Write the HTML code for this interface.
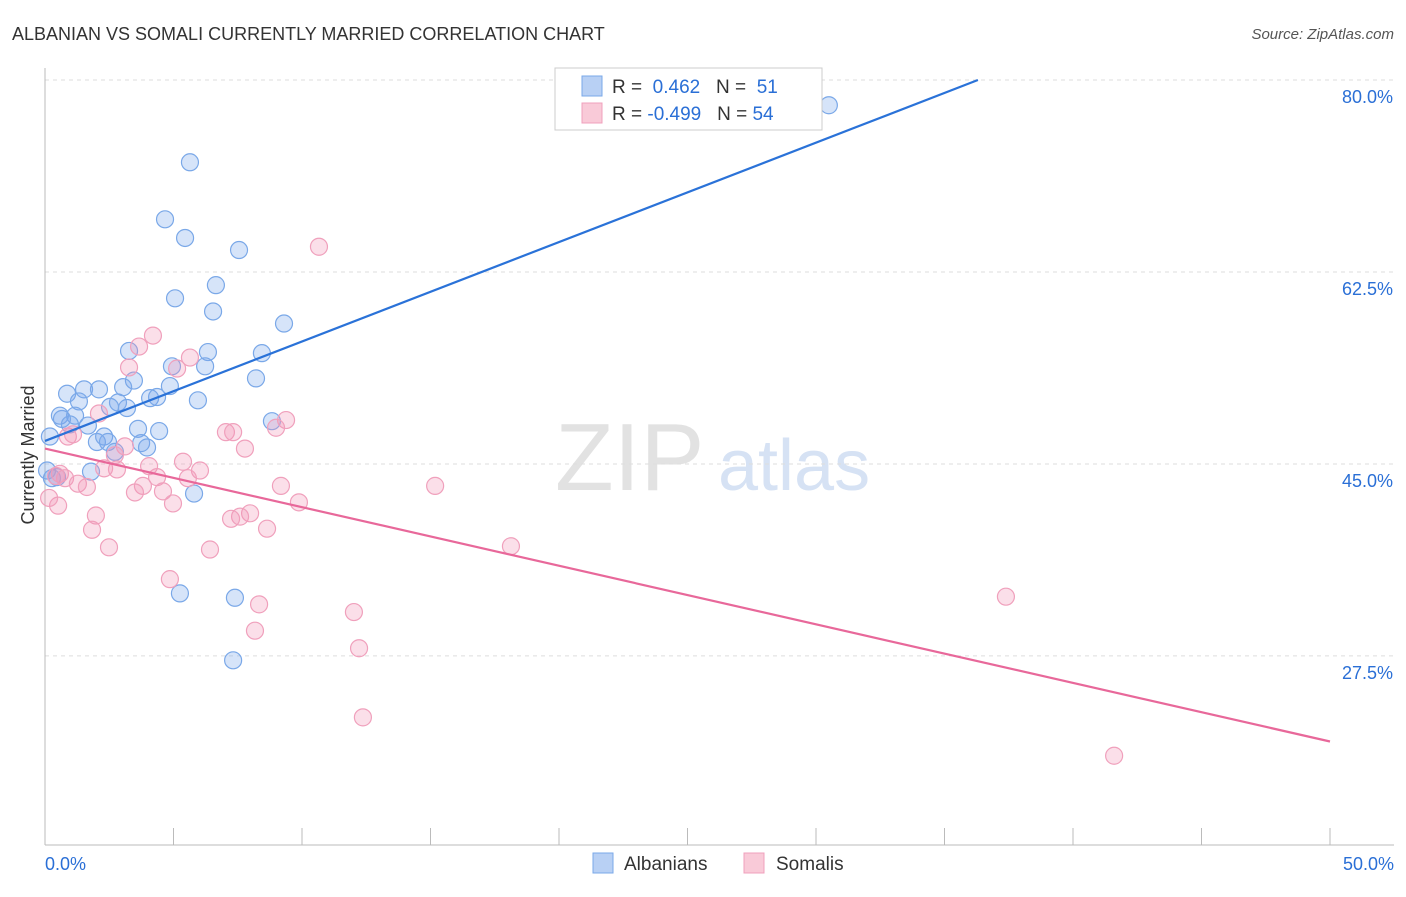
<!DOCTYPE html>
<html><head><meta charset="utf-8"><style>
body{margin:0;background:#fff;font-family:"Liberation Sans",sans-serif;}
svg text{font-family:"Liberation Sans",sans-serif;}
</style></head><body>
<svg width="1406" height="892" id="chart">
<text x="12" y="40" font-size="18" fill="#333">ALBANIAN VS SOMALI CURRENTLY MARRIED CORRELATION CHART</text>
<text x="1394" y="39" font-size="15" fill="#555" text-anchor="end" font-style="italic">Source: ZipAtlas.com</text>
<text x="34" y="455" font-size="18" fill="#333" text-anchor="middle" transform="rotate(-90 34 455)">Currently Married</text>
<text x="555" y="490" font-size="96" fill="#e2e2e2" font-family="Liberation Serif">ZIP</text>
<text x="718" y="490" font-size="72" fill="#d6e2f4">atlas</text>
<g id="grid"></g><g id="axes"></g><g id="pts"></g><g id="lines"></g>
<g>
<rect x="555" y="68" width="267" height="62" fill="#fff" stroke="#ccc"/>
<rect x="582" y="76" width="20" height="20" fill="#b8d0f4" stroke="#7aa8e8"/>
<rect x="582" y="103" width="20" height="20" fill="#f9cad8" stroke="#f0a0bc"/>
<text x="612" y="93" font-size="19" fill="#333">R = <tspan fill="#2a6fd6">&#160;0.462</tspan>&#160;&#160;&#160;N = <tspan fill="#2a6fd6">&#160;51</tspan></text>
<text x="612" y="120" font-size="19" fill="#333">R = <tspan fill="#2a6fd6">-0.499</tspan>&#160;&#160;&#160;N = <tspan fill="#2a6fd6">54</tspan></text>
</g>
<g>
<rect x="593" y="853" width="20" height="20" fill="#b8d0f4" stroke="#7aa8e8"/>
<text x="624" y="870" font-size="19" fill="#333">Albanians</text>
<rect x="744" y="853" width="20" height="20" fill="#f9cad8" stroke="#f0a0bc"/>
<text x="776" y="870" font-size="19" fill="#333">Somalis</text>
</g>
</svg>
<script>
const yTicks=[80,62.5,45,27.5];
const yTickLabels=["80.0%","62.5%","45.0%","27.5%"];
const xLabels=["0.0%","50.0%"];
const albX=[30.5,5.64,4.67,5.45,7.55,6.65,5.06,6.54,9.30,3.27,6.34,8.44,4.94,6.23,3.46,8.21,0.86,1.52,2.10,3.04,4.86,1.32,2.84,4.09,4.36,5.95,0.58,1.17,2.53,3.19,0.97,1.67,3.62,4.44,0.19,2.02,2.30,2.45,3.74,3.97,2.72,8.83,1.79,0.47,0.27,5.80,5.25,7.39,7.32,0.08,0.66];
const albY=[77.7,72.5,67.3,65.6,64.5,61.3,60.1,58.9,57.8,55.3,55.2,55.1,53.9,53.9,52.6,52.8,51.4,51.8,51.8,52.0,52.1,50.7,50.6,51.0,51.1,50.8,49.4,49.4,50.2,50.1,48.6,48.5,48.2,48.0,47.5,47.0,47.5,47.0,46.9,46.5,46.1,48.9,44.3,43.8,43.7,42.3,33.2,32.8,27.1,44.4,49.1];
const somX=[10.66,4.20,3.66,3.27,5.64,5.14,2.10,9.38,8.99,0.89,1.09,7.04,7.32,7.78,3.11,2.72,4.05,5.37,6.03,2.30,2.80,0.58,0.78,4.36,5.56,1.28,1.63,3.81,4.59,3.50,9.18,9.88,15.18,4.98,0.51,0.16,1.98,7.98,7.59,7.24,1.83,8.64,2.49,6.42,18.13,4.86,8.33,12.02,37.39,8.17,12.22,12.37,41.60,0.43];
const somY=[64.8,56.7,55.7,53.8,54.7,53.7,49.6,49.0,48.3,47.5,47.7,47.9,47.9,46.4,46.6,45.8,44.8,45.2,44.4,44.6,44.5,44.1,43.7,43.8,43.7,43.2,42.9,43.0,42.5,42.4,43.0,41.5,43.0,41.4,41.2,41.9,40.3,40.5,40.2,40.0,39.0,39.1,37.4,37.2,37.5,34.5,32.2,31.5,32.9,29.8,28.2,21.9,18.4,43.9];
const albTrend=[[0,47.1],[36.3,80]];
const somTrend=[[0,46.4],[50,19.7]];
const NS="http://www.w3.org/2000/svg";
const X=v=>45+v*25.7, Y=v=>80+(80-v)*10.97;
function mk(p,t,a){const e=document.createElementNS(NS,t);for(const k in a)e.setAttribute(k,a[k]);p.appendChild(e);return e;}
const grid=document.getElementById('grid'),axes=document.getElementById('axes'),pts=document.getElementById('pts'),lines=document.getElementById('lines');
yTicks.forEach((t,i)=>{
 const l=mk(grid,'line',{x1:45,x2:1394,y1:Y(t),y2:Y(t),stroke:'#ddd','stroke-dasharray':'4,4'});
 
 
 const tx=mk(axes,'text',{x:1393,y:Y(t)+23,'font-size':18,fill:'#2a6fd6','text-anchor':'end'});
 tx.textContent=yTickLabels[i];
 
 
});
const ax=mk(axes,'line',{x1:45,x2:1394,y1:845,y2:845,stroke:'#bbb'});


const ay=mk(axes,'line',{x1:45,x2:45,y1:68,y2:845,stroke:'#bbb'});


for(let i=0;i<=10;i++){
 const tk=mk(axes,'line',{x1:X(i*5),x2:X(i*5),y1:828,y2:845,stroke:'#bbb'});
 
 
}
[[0,'start'],[50,'end']].forEach((d,i)=>{
 const tx=mk(axes,'text',{x:i?1394:45,y:870,'font-size':18,fill:'#2a6fd6','text-anchor':d[1]});
 tx.textContent=xLabels[i];
 
 
});
function dots(xs,ys,fill,stroke,name){
 xs.forEach((x,i)=>{
  const c=mk(pts,'circle',{cx:X(x),cy:Y(ys[i]),r:8.5,fill:fill,stroke:stroke,'stroke-width':1.2});
  
  
 });
}
dots(albX,albY,'rgba(120,165,235,0.3)','#7aa8e8','albanian-point');
dots(somX,somY,'rgba(242,150,182,0.3)','#f0a0bc','somali-point');
const l1=mk(lines,'line',{x1:X(albTrend[0][0]),y1:Y(albTrend[0][1]),x2:X(albTrend[1][0]),y2:Y(albTrend[1][1]),stroke:'#2a72d8','stroke-width':2.2});


const l2=mk(lines,'line',{x1:X(somTrend[0][0]),y1:Y(somTrend[0][1]),x2:X(somTrend[1][0]),y2:Y(somTrend[1][1]),stroke:'#e8689a','stroke-width':2.2});


</script>
</body></html>
